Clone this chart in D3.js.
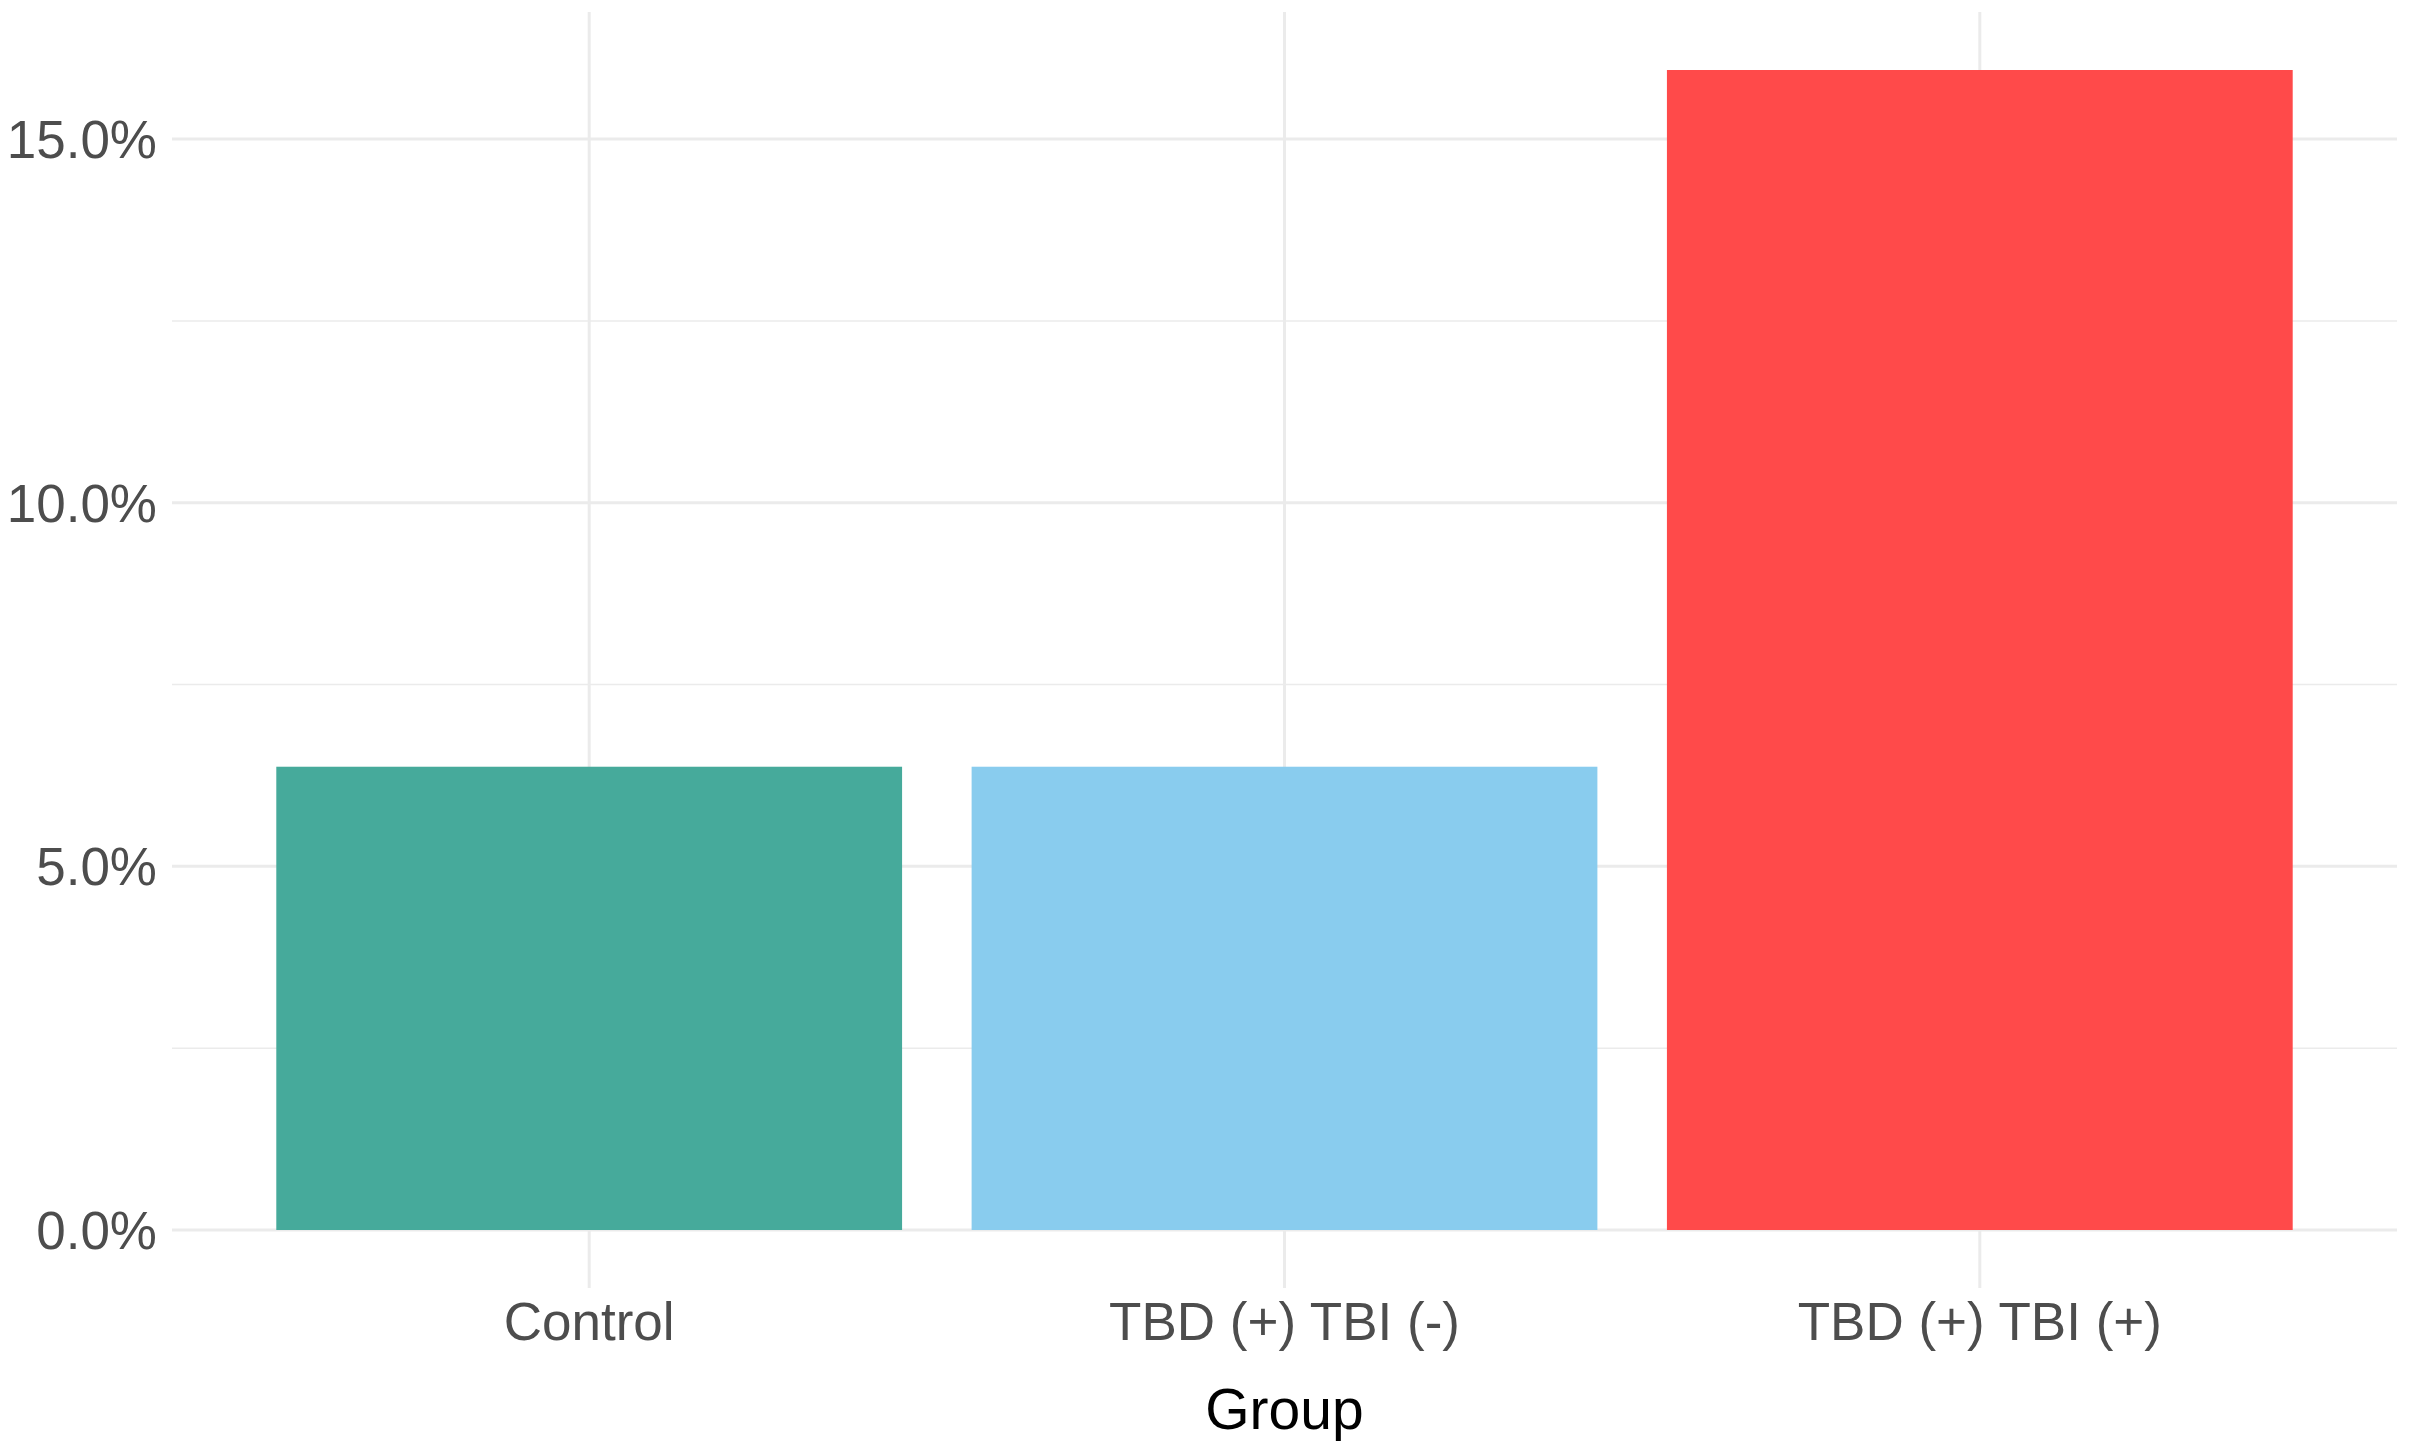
<!DOCTYPE html>
<meta charset="utf-8">
<style>
  body { margin: 0; background: #fff; }
  text { font-family: "Liberation Sans", Arial, Helvetica, sans-serif; }
</style>
<svg width="2413" height="1441"></svg>
<script src="https://d3js.org/d3.v7.min.js"></script>
<script>
var svg = d3.select("svg"),
    width = +svg.attr("width"),
    height = +svg.attr("height");

// data
var groups = ["Control", "TBD (+) TBI (-)", "TBD (+) TBI (+)"];
var shares = [0.0637, 0.0637, 0.1595];
var colours = ["#46AA9B", "#89CCEE", "#FF4A4A"];
var yTicks = [0, 0.05, 0.10, 0.15];
var yMinor = [0.025, 0.075, 0.125];

// panel box (don't use "top", it's window.top)
var panelLeft = 172, panelRight = 2397, panelTop = 12, panelBottom = 1288;

// ggplot-like discrete scale: 0.6 units padding each side
var x = d3.scaleLinear()
    .domain([1 - 0.6, groups.length + 0.6])
    .range([panelLeft, panelRight]);
var bandW = x(2) - x(1);

// continuous y with 5% expansion
var yMax = d3.max(shares);
var yPad = yMax * 0.05;
var y = d3.scaleLinear()
    .domain([-yPad, yMax + yPad])
    .range([panelBottom, panelTop]);

var grid = svg.append("g").attr("class", "grid");

// minor horizontal grid
grid.selectAll("line.minor")
    .data(yMinor)
    .enter().append("line")
    .attr("class", "minor")
    .attr("x1", panelLeft).attr("x2", panelRight)
    .attr("y1", function(d) { return y(d); })
    .attr("y2", function(d) { return y(d); })
    .attr("stroke", "#EBEBEB")
    .attr("stroke-width", 1.5);

// major horizontal grid
grid.selectAll("line.major")
    .data(yTicks)
    .enter().append("line")
    .attr("class", "major")
    .attr("x1", panelLeft).attr("x2", panelRight)
    .attr("y1", function(d) { return y(d); })
    .attr("y2", function(d) { return y(d); })
    .attr("stroke", "#EBEBEB")
    .attr("stroke-width", 3);

// vertical grid at categories
grid.selectAll("line.vert")
    .data(groups)
    .enter().append("line")
    .attr("class", "vert")
    .attr("x1", function(d, i) { return x(i + 1); })
    .attr("x2", function(d, i) { return x(i + 1); })
    .attr("y1", panelTop).attr("y2", panelBottom)
    .attr("stroke", "#EBEBEB")
    .attr("stroke-width", 3);

// bars
svg.append("g")
    .selectAll("rect")
    .data(shares)
    .enter().append("rect")
    .attr("x", function(d, i) { return x(i + 1) - bandW * 0.45; })
    .attr("width", bandW * 0.9)
    .attr("y", function(d) { return y(d); })
    .attr("height", function(d) { return y(0) - y(d); })
    .attr("fill", function(d, i) { return colours[i]; });

// y tick labels
var fmt = d3.format(".1%");
svg.append("g")
    .selectAll("text")
    .data(yTicks)
    .enter().append("text")
    .attr("x", 157)
    .attr("y", function(d) { return y(d); })
    .attr("dy", "0.36em")
    .attr("text-anchor", "end")
    .attr("font-size", 53)
    .attr("fill", "#4D4D4D")
    .text(function(d) { return fmt(d); });

// x tick labels
svg.append("g")
    .selectAll("text")
    .data(groups)
    .enter().append("text")
    .attr("x", function(d, i) { return x(i + 1); })
    .attr("y", 1340)
    .attr("text-anchor", "middle")
    .attr("font-size", 53)
    .attr("fill", "#4D4D4D")
    .text(function(d) { return d; });

// axis title
svg.append("text")
    .attr("x", (panelLeft + panelRight) / 2)
    .attr("y", 1429)
    .attr("text-anchor", "middle")
    .attr("font-size", 57)
    .attr("fill", "#000")
    .text("Group");
</script>
